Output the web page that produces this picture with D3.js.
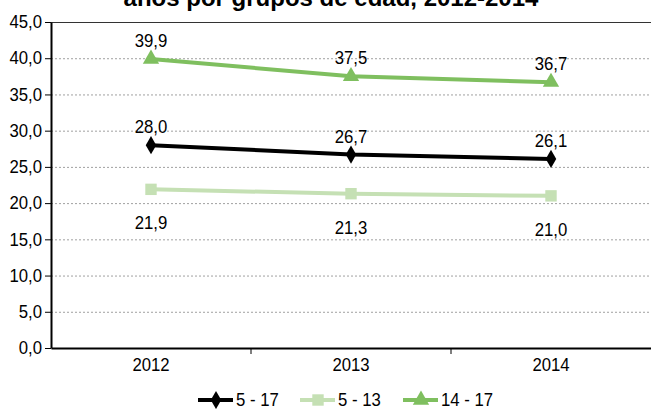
<!DOCTYPE html>
<html>
<head>
<meta charset="utf-8">
<script src="https://cdn.jsdelivr.net/npm/d3@7"></script>
<style>
  body { margin: 0; background: #fff; }
  svg text { font-family: "Liberation Sans Narrow", "Arial Narrow", "Liberation Sans", Arial, sans-serif; fill: #000; }
</style>
</head>
<body>
<svg width="651" height="409"></svg>
<script>
// Data
var years = ["2012", "2013", "2014"];
var total = [28.0, 26.7, 26.1];      // 5 - 17
var young = [21.9, 21.3, 21.0];      // 5 - 13
var teens = [39.9, 37.5, 36.7];      // 14 - 17
var yTicks = [0, 5, 10, 15, 20, 25, 30, 35, 40, 45];

var series = [
	{ name: "5 - 17", values: total, color: "#000000", symbol: d3.symbolDiamond, size: 95, above: true },
	{ name: "5 - 13", values: young, color: "#c5e0b4", symbol: d3.symbolSquare, size: 130, above: false },
	{ name: "14 - 17", values: teens, color: "#7fbf5f", symbol: d3.symbolTriangle, size: 115, above: true }
];

var svg = d3.select("svg");
var margin = { left: 51, right: 0, top: 22 };
var plotW = 651 - margin.left - margin.right,
	plotH = 348 - margin.top;

var fmt = (v) => d3.format(".1f")(v).replace(".", ",");
var squeeze = 0.93; // the original font is a bit narrow

var x = d3.scaleBand().domain(years).range([margin.left, margin.left + plotW]);
var y = d3.scaleLinear().domain([0, 45]).range([margin.top + plotH, margin.top]);

// Title (cut off at top in the original, only its last line shows)
svg.append("text")
	.attr("x", 331).attr("y", 6)
	.attr("text-anchor", "middle")
	.style("font-family", "'Liberation Sans', Arial, sans-serif")
	.style("font-weight", "bold")
	.style("font-size", "24px")
	.text("años por grupos de edad, 2012-2014");

// Gridlines
svg.append("g")
	.selectAll("line")
	.data(yTicks.filter((d) => d > 0 && d < 45))
	.enter().append("line")
	.attr("x1", margin.left).attr("x2", margin.left + plotW)
	.attr("y1", (d) => y(d) + 0.5).attr("y2", (d) => y(d) + 0.5)
	.attr("stroke", "#a0a0a0")
	.attr("stroke-dasharray", "2,2");

// top border line
svg.append("line")
	.attr("x1", margin.left).attr("x2", margin.left + plotW)
	.attr("y1", y(45) + 0.5).attr("y2", y(45) + 0.5)
	.attr("stroke", "#333").attr("stroke-width", 1.2);

// Y axis
var yAxis = svg.append("g")
	.attr("transform", "translate(" + margin.left + ",0)")
	.call(d3.axisLeft(y).tickValues(yTicks).tickFormat(fmt).tickSize(6).tickSizeOuter(0));
yAxis.select(".domain").attr("stroke-width", 2);
yAxis.selectAll("text")
	.style("font-size", "18px")
	.attr("x", null)
	.attr("transform", "translate(-9,0) scale(" + squeeze + ",1)");

// X axis
var xAxis = svg.append("g")
	.attr("transform", "translate(0," + y(0) + ")")
	.call(d3.axisBottom(x).tickSize(0));
xAxis.select(".domain").attr("stroke-width", 2);
xAxis.selectAll("text")
	.style("font-size", "18px")
	.attr("dy", null).attr("y", null)
	.attr("transform", "translate(0,23) scale(" + squeeze + ",1)");
// category boundary ticks
xAxis.selectAll(".bound")
	.data(years.slice(1))
	.enter().append("line")
	.attr("class", "bound")
	.attr("x1", (d) => x(d)).attr("x2", (d) => x(d))
	.attr("y1", 0).attr("y2", 6)
	.attr("stroke", "#000");

var cx = (d, i) => x(years[i]) + x.bandwidth() / 2;
var line = d3.line().x((d, i) => cx(d, i)).y((d) => y(d));

// Lines, markers, labels
series.forEach((s) => {
	var g = svg.append("g");
	g.append("path")
		.datum(s.values)
		.attr("d", line)
		.attr("fill", "none")
		.attr("stroke", s.color)
		.attr("stroke-width", 4);
	g.selectAll("path.mark")
		.data(s.values)
		.enter().append("path")
		.attr("class", "mark")
		.attr("d", d3.symbol().type(s.symbol).size(s.size))
		.attr("transform", (d, i) => "translate(" + cx(d, i) + "," + y(d) + ")")
		.attr("fill", s.color);
	g.selectAll("text")
		.data(s.values)
		.enter().append("text")
		.attr("transform", (d, i) => "translate(" + cx(d, i) + "," + (s.above ? y(d) - 12 : y(d) + 40) + ") scale(" + squeeze + ",1)")
		.attr("text-anchor", "middle")
		.style("font-size", "18px")
		.text(fmt);
});

// Legend
var legX = [198, 300, 403];
var legend = svg.append("g")
	.selectAll("g")
	.data(series)
	.enter().append("g")
	.attr("transform", (d, i) => "translate(" + legX[i] + ",400)");
legend.append("line")
	.attr("x1", 0).attr("x2", 35)
	.attr("stroke", (d) => d.color)
	.attr("stroke-width", 4);
legend.append("path")
	.attr("d", (d) => d3.symbol().type(d.symbol).size(d.size)())
	.attr("transform", "translate(18,0)")
	.attr("fill", (d) => d.color);
legend.append("text")
	.attr("transform", "translate(38,0) scale(" + squeeze + ",1)")
	.attr("dy", "0.35em")
	.style("font-size", "18px")
	.text((d) => d.name);
</script>
</body>
</html>
